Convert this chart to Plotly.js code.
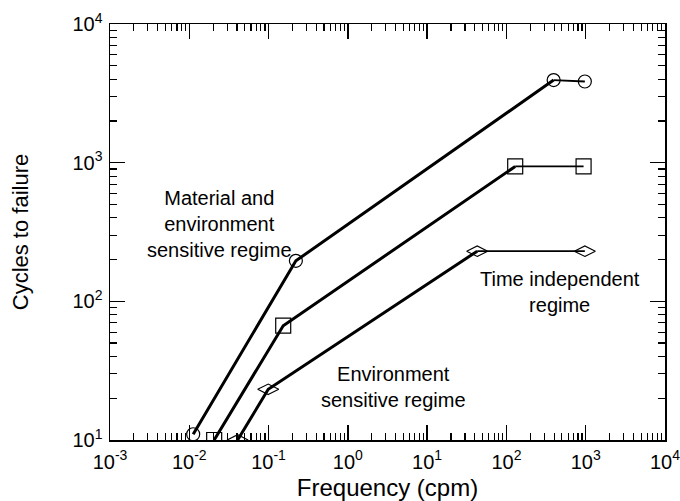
<!DOCTYPE html>
<html>
<head>
<meta charset="utf-8">
<script src="https://cdn.plot.ly/plotly-3.0.1.min.js"></script>
<style>html,body{margin:0;padding:0;background:#fff;}#chart{width:680px;height:501px;}</style>
</head>
<body>
<div id="chart"></div>
<script>
// Frequency (cpm) and cycles to failure for three curves
const circleFreq   = [0.0112, 0.221, 394, 975];
const circleCycles = [11.0, 196, 3940, 3850];
const squareFreq   = [0.0206, 0.153, 129, 940];
const squareCycles = [10.0, 66.7, 940, 940];
const diamondFreq   = [0.0407, 0.099, 42.8, 975];
const diamondCycles = [10.0, 23.2, 230, 230];

const xTickVals = [0.001, 0.01, 0.1, 1, 10, 100, 1000, 10000];
const xTickText = ['10<sup>-3</sup>', '10<sup>-2</sup>', '10<sup>-1</sup>', '10<sup>0</sup>', '10<sup>1</sup>', '10<sup>2</sup>', '10<sup>3</sup>', '10<sup>4</sup>'];
const yTickVals = [10, 100, 1000, 10000];
const yTickText = ['10<sup>1</sup>', '10<sup>2</sup>', '10<sup>3</sup>', '10<sup>4</sup>'];

const annTexts = ['Material and<br>environment<br>sensitive regime', 'Environment<br>sensitive regime', 'Time independent<br>regime'];
const annX = [-1.613, 0.581, 2.675];
const annY = [2.561, 1.384, 2.069];

function minorVals(lo, hi) {
  const v = [];
  for (let e = lo; e < hi; e++) for (let m = 2; m <= 9; m++) v.push(m * Math.pow(10, e));
  return v;
}

const series = [
  {x: circleFreq, y: circleCycles, sym: 'circle-open', size: 13},
  {x: squareFreq, y: squareCycles, sym: 'square-open', size: 15},
  {x: diamondFreq, y: diamondCycles, sym: 'diamond-wide-open', size: 15}
];
const traces = [];
series.forEach(s => {
  traces.push({
    x: s.x.slice(0, 3), y: s.y.slice(0, 3), mode: 'lines', type: 'scatter',
    line: {color: '#000', width: 3}, hoverinfo: 'x+y', showlegend: false
  });
  traces.push({
    x: s.x.slice(2), y: s.y.slice(2), mode: 'lines', type: 'scatter',
    line: {color: '#000', width: 1.8}, hoverinfo: 'x+y', showlegend: false
  });
  traces.push({
    x: s.x, y: s.y, mode: 'markers', type: 'scatter',
    marker: {symbol: s.sym, size: s.size, color: '#000', line: {color: '#000', width: 1.2}},
    hoverinfo: 'x+y', showlegend: false
  });
});

const font = {family: 'Liberation Sans, Arial, Helvetica, sans-serif', color: '#000'};
const axisCommon = {
  type: 'log', showline: true, linecolor: '#000', linewidth: 1.5,
  mirror: 'ticks', ticks: 'inside', ticklen: 15, tickwidth: 1.5, tickcolor: '#000',
  showgrid: false, zeroline: false, tickmode: 'array',
  ticklabeloverflow: 'allow',
  tickfont: Object.assign({size: 20}, font)
};
const layout = {
  width: 680, height: 501,
  margin: {l: 110, r: 15, t: 24, b: 61},
  paper_bgcolor: '#fff', plot_bgcolor: '#fff',
  font: font,
  xaxis: Object.assign({}, axisCommon, {
    range: [-3, 4], tickvals: xTickVals, ticktext: xTickText,
    ticklabelstandoff: 3,
    minor: {tickmode: 'array', tickvals: minorVals(-3, 4), ticks: 'inside', ticklen: 7, tickwidth: 1.2, tickcolor: '#000'},
    title: {text: 'Frequency (cpm)', font: Object.assign({size: 24}, font), standoff: 8}
  }),
  yaxis: Object.assign({}, axisCommon, {
    range: [1, 4], tickvals: yTickVals, ticktext: yTickText,
    ticklabelstandoff: 2,
    minor: {tickmode: 'array', tickvals: minorVals(1, 4), ticks: 'inside', ticklen: 7, tickwidth: 1.2, tickcolor: '#000'},
    title: {text: 'Cycles to failure', font: Object.assign({size: 22}, font), standoff: 38}
  }),
  annotations: annTexts.map((t, i) => ({
    x: annX[i], y: annY[i], xref: 'x', yref: 'y', text: t, showarrow: false,
    xanchor: 'center', yanchor: 'middle', align: 'center',
    font: Object.assign({size: 20}, font)
  }))
};
Plotly.newPlot('chart', traces, layout, {displayModeBar: false, staticPlot: true});
</script>
</body>
</html>
